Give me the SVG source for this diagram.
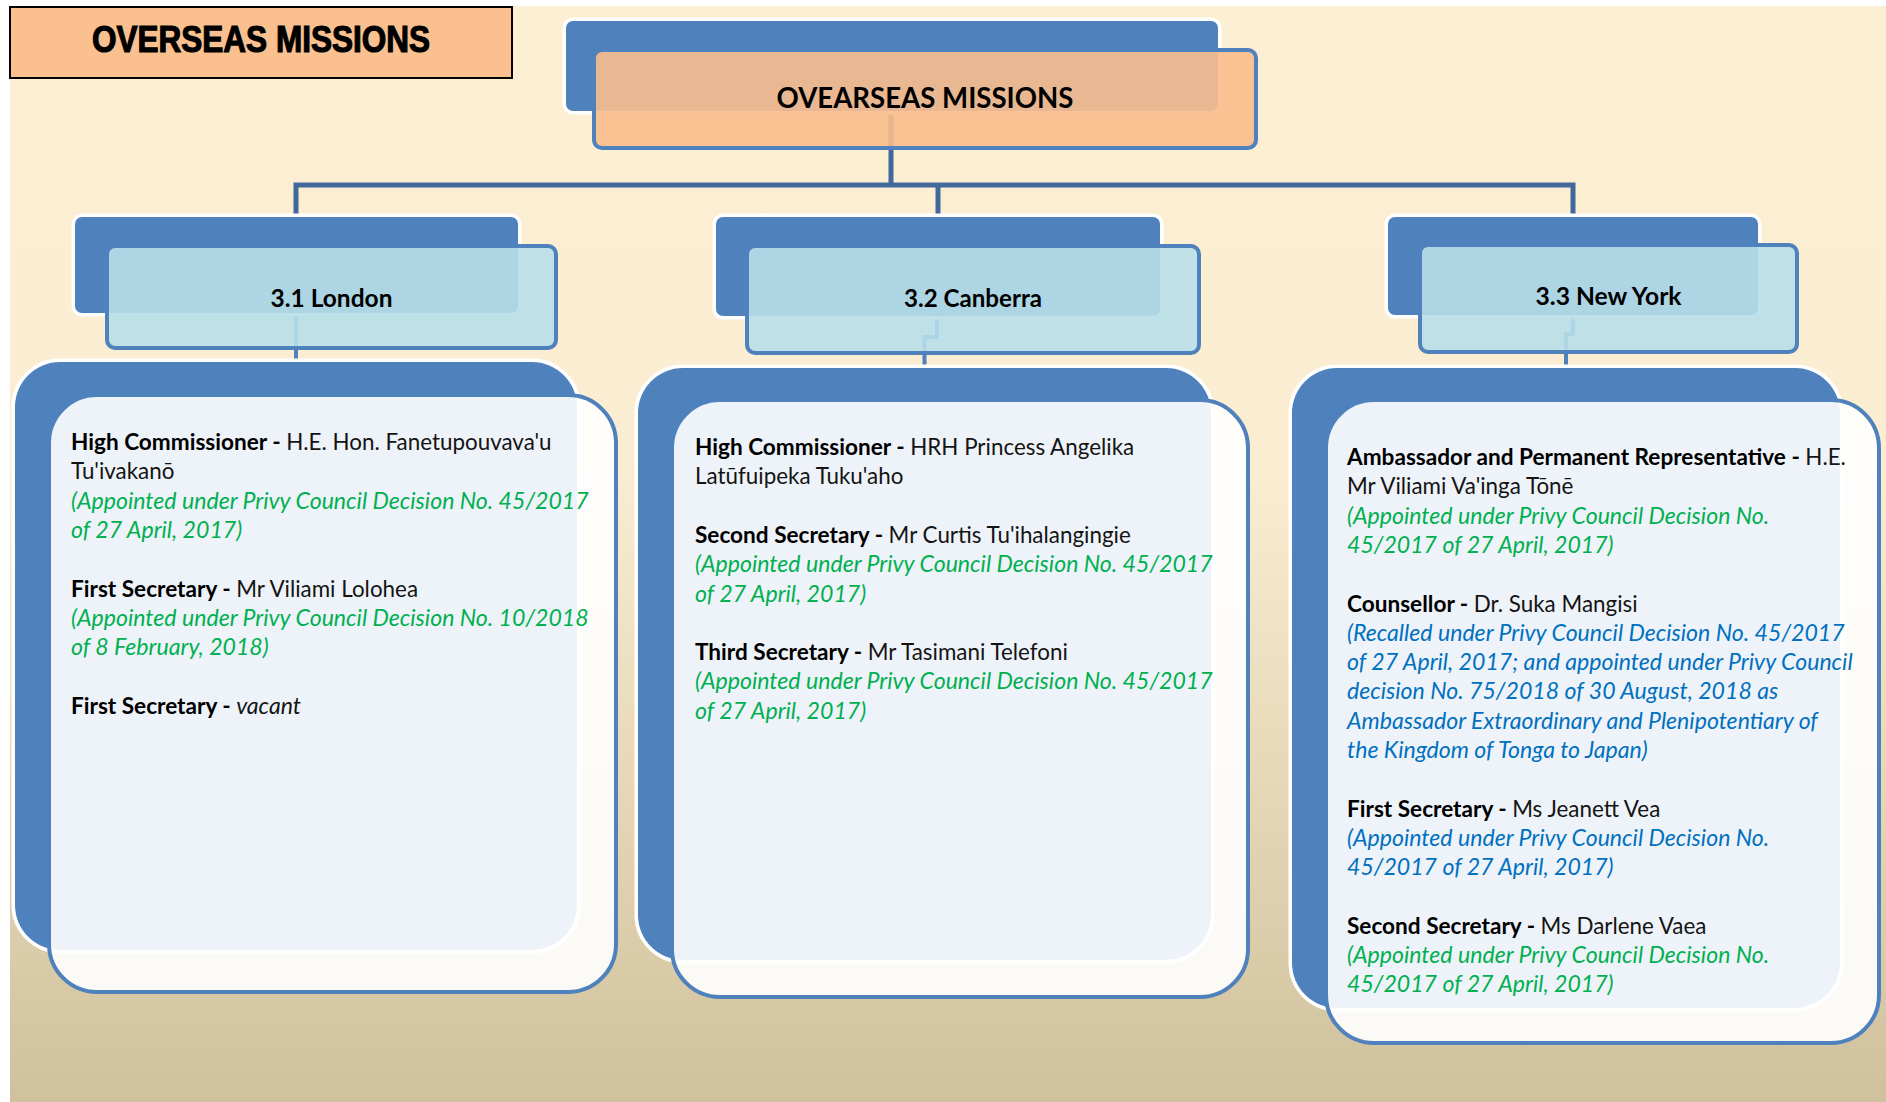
<svg xmlns="http://www.w3.org/2000/svg" width="1886" height="1102" viewBox="0 0 1886 1102">
  <defs>
    <linearGradient id="bgGrad" x1="0" y1="0" x2="0" y2="1">
      <stop offset="0" stop-color="#FDEFD3"/>
      <stop offset="0.42" stop-color="#FBEDD2"/>
      <stop offset="1" stop-color="#D0C19D"/>
    </linearGradient>
    <style>
      .back { fill:#4F81BD; stroke:#FFFFFF; stroke-width:7; paint-order:stroke; }
      .frontOrange { fill:#F9BD8C; fill-opacity:0.9; stroke:#4F81BD; stroke-width:4; }
      .frontBlue { fill:#B7DEE8; fill-opacity:0.9; stroke:#4F81BD; stroke-width:4; }
      .frontWhite { fill:#FFFFFF; fill-opacity:0.9; stroke:#4F81BD; stroke-width:4; }
      .bus { fill:none; stroke:#41699B; stroke-width:5; stroke-linejoin:miter; }
      .drop { fill:none; stroke:#4F81BD; stroke-width:4; }
      .head { font-family:Lato, "Open Sans", sans-serif; font-weight:700; fill:#000000; text-anchor:middle; }
      .body { font-family:Lato, "Open Sans", sans-serif; font-size:22.4px; fill:#141414; }
      .b { font-weight:700; font-size:22.6px; fill:#000000; }
      .i { font-style:italic; font-size:23.1px; }
      .g { font-style:italic; font-size:23.1px; fill:#00B050; }
      .u { font-style:italic; font-size:23.1px; fill:#0070C0; }
    </style>
  </defs>

  <!-- page background -->
  <rect x="0" y="0" width="1886" height="1102" fill="#FFFFFF"/>
  <rect x="10" y="6" width="1876" height="1096" fill="url(#bgGrad)"/>

  <!-- page title -->
  <g id="title">
    <rect x="10" y="7" width="502" height="71" fill="#FAC090" stroke="#000000" stroke-width="2"/>
    <text x="261" y="52" text-anchor="middle" font-family="'Liberation Sans', Arial, sans-serif" font-weight="700" font-size="37" fill="#000000" stroke="#000000" stroke-width="1.2" textLength="338" lengthAdjust="spacingAndGlyphs">OVERSEAS MISSIONS</text>
  </g>

  <!-- connectors -->
  <g id="connectors">
    <path class="bus" d="M891,100 V185"/>
    <path class="bus" d="M296,220 V185 H1573 V220"/>
    <path class="bus" d="M938,185 V220"/>
    <path class="drop" d="M296,300 V368"/>
    <path class="drop" d="M937,300 V337 H924.5 V372"/>
    <path class="drop" d="M1573,300 V334 H1566 V372"/>
  </g>

  <!-- root node -->
  <g id="node-root">
    <rect class="back" x="566" y="21" width="652" height="90" rx="7"/>
    <rect class="frontOrange" x="594" y="50" width="662" height="98" rx="8"/>
    <text class="head" x="925" y="108" font-size="29" textLength="297" lengthAdjust="spacingAndGlyphs">OVEARSEAS MISSIONS</text>
  </g>

  <!-- 3.1 London -->
  <g id="node-london">
    <rect class="back" x="75" y="217" width="443" height="96" rx="7"/>
    <rect class="frontBlue" x="107" y="246" width="449" height="102" rx="8"/>
    <text class="head" x="331.5" y="307" font-size="24" textLength="122" lengthAdjust="spacingAndGlyphs">3.1 London</text>
  </g>
  <g id="details-london">
    <rect class="back" x="15" y="362" width="562" height="588" rx="45"/>
    <rect class="frontWhite" x="49" y="395" width="567" height="597" rx="48"/>
    <text class="body" x="71" y="450"><tspan class="b">High Commissioner - </tspan>H.E. Hon. Fanetupouvava'u</text>
    <text class="body" x="71" y="479.3">Tu'ivakanō</text>
    <text class="body g" x="71" y="508.6">(Appointed under Privy Council Decision No. 45/2017</text>
    <text class="body g" x="71" y="537.9">of 27 April, 2017)</text>
    <text class="body" x="71" y="596.5"><tspan class="b">First Secretary - </tspan>Mr Viliami Lolohea</text>
    <text class="body g" x="71" y="625.8">(Appointed under Privy Council Decision No. 10/2018</text>
    <text class="body g" x="71" y="655.1">of 8 February, 2018)</text>
    <text class="body" x="71" y="713.7"><tspan class="b">First Secretary - </tspan><tspan class="i">vacant</tspan></text>
  </g>

  <!-- 3.2 Canberra -->
  <g id="node-canberra">
    <rect class="back" x="716" y="217" width="444" height="99" rx="7"/>
    <rect class="frontBlue" x="747" y="246" width="452" height="107" rx="8"/>
    <text class="head" x="973" y="307" font-size="24" textLength="138" lengthAdjust="spacingAndGlyphs">3.2 Canberra</text>
  </g>
  <g id="details-canberra">
    <rect class="back" x="638" y="368" width="573" height="592" rx="45"/>
    <rect class="frontWhite" x="672" y="400" width="576" height="597" rx="48"/>
    <text class="body" x="695" y="455"><tspan class="b">High Commissioner - </tspan>HRH Princess Angelika</text>
    <text class="body" x="695" y="484.3">Latūfuipeka Tuku'aho</text>
    <text class="body" x="695" y="542.9"><tspan class="b">Second Secretary - </tspan>Mr Curtis Tu'ihalangingie</text>
    <text class="body g" x="695" y="572.2">(Appointed under Privy Council Decision No. 45/2017</text>
    <text class="body g" x="695" y="601.5">of 27 April, 2017)</text>
    <text class="body" x="695" y="660.1"><tspan class="b">Third Secretary - </tspan>Mr Tasimani Telefoni</text>
    <text class="body g" x="695" y="689.4">(Appointed under Privy Council Decision No. 45/2017</text>
    <text class="body g" x="695" y="718.7">of 27 April, 2017)</text>
  </g>

  <!-- 3.3 New York -->
  <g id="node-newyork">
    <rect class="back" x="1388" y="217" width="370" height="98" rx="7"/>
    <rect class="frontBlue" x="1420" y="245" width="377" height="107" rx="8"/>
    <text class="head" x="1608.5" y="305" font-size="24" textLength="146" lengthAdjust="spacingAndGlyphs">3.3 New York</text>
  </g>
  <g id="details-newyork">
    <rect class="back" x="1292" y="368" width="548" height="640" rx="45"/>
    <rect class="frontWhite" x="1326" y="400" width="553" height="643" rx="48"/>
    <text class="body" x="1347" y="465"><tspan class="b">Ambassador and Permanent Representative - </tspan>H.E.</text>
    <text class="body" x="1347" y="494.3">Mr Viliami Va'inga Tōnē</text>
    <text class="body g" x="1347" y="523.6">(Appointed under Privy Council Decision No.</text>
    <text class="body g" x="1347" y="552.9">45/2017 of 27 April, 2017)</text>
    <text class="body" x="1347" y="611.5"><tspan class="b">Counsellor - </tspan>Dr. Suka Mangisi</text>
    <text class="body u" x="1347" y="640.8">(Recalled under Privy Council Decision No. 45/2017</text>
    <text class="body u" x="1347" y="670.1">of 27 April, 2017; and appointed under Privy Council</text>
    <text class="body u" x="1347" y="699.4">decision No. 75/2018 of 30 August, 2018 as</text>
    <text class="body u" x="1347" y="728.7">Ambassador Extraordinary and Plenipotentiary of</text>
    <text class="body u" x="1347" y="758">the Kingdom of Tonga to Japan)</text>
    <text class="body" x="1347" y="816.6"><tspan class="b">First Secretary - </tspan>Ms Jeanett Vea</text>
    <text class="body u" x="1347" y="845.9">(Appointed under Privy Council Decision No.</text>
    <text class="body u" x="1347" y="875.2">45/2017 of 27 April, 2017)</text>
    <text class="body" x="1347" y="933.8"><tspan class="b">Second Secretary - </tspan>Ms Darlene Vaea</text>
    <text class="body g" x="1347" y="963.1">(Appointed under Privy Council Decision No.</text>
    <text class="body g" x="1347" y="992.4">45/2017 of 27 April, 2017)</text>
  </g>
</svg>
